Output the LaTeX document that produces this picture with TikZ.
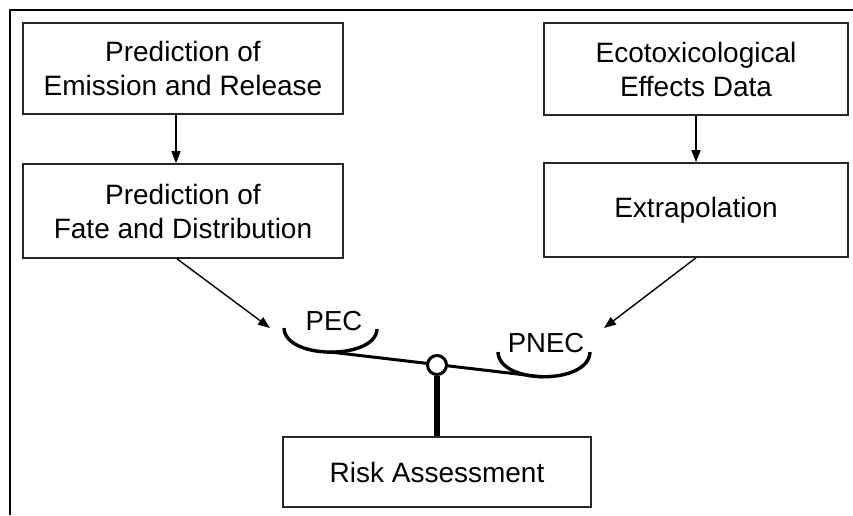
\documentclass[tikz,border=0pt]{standalone}
\usepackage{fontspec}
\setmainfont{Liberation Sans}
\usetikzlibrary{arrows.meta}
\begin{document}
\begin{tikzpicture}[x=1pt,y=-1pt,
  txt/.style={font=\fontsize{28}{34}\selectfont, align=center, inner sep=0pt},
  stepbox/.style={txt, draw=black!85, line width=1.6pt},
  arr/.style={line width=1.4pt, -{Triangle[length=12pt,width=9pt]}},
  pan/.style={line width=3.4pt},
]
\useasboundingbox (0,0) rectangle (853,515);
% outer frame (top and left edges)
\draw[line width=2.4pt] (10,515) -- (10,10) -- (853,10);

% exposure branch
\node[stepbox, minimum width=320pt, minimum height=91pt] (emis) at (183,68.5) {Prediction of\\Emission and Release};
\node[stepbox, minimum width=320pt, minimum height=94pt] (fate) at (183,211) {Prediction of\\Fate and Distribution};
% effects branch
\node[stepbox, minimum width=304pt, minimum height=92pt] (eco) at (696,69) {Ecotoxicological\\Effects Data};
\node[stepbox, minimum width=304pt, minimum height=94pt] (extra) at (696,210) {Extrapolation};
% result
\node[stepbox, minimum width=308pt, minimum height=70pt] (risk) at (437,472) {Risk Assessment};

\draw[arr] ([xshift=-7pt]emis.south) -- ([xshift=-7pt]fate.north);
\draw[arr] (eco.south) -- (extra.north);

% balance
\coordinate (pecin) at (270,328);
\coordinate (pnecin) at (604,328);
\coordinate (lb) at (330,352);
\coordinate (rb) at (543,377);
\draw[arr] ([xshift=-6pt]fate.south) -- (pecin);
\draw[arr] (extra.south) -- (pnecin);

\draw[pan] (284,328) .. controls (285,360) and (376,360) .. (377,329);
\draw[pan] (498,352) .. controls (499,385) and (589,385) .. (590,352);
\draw[line width=3pt] (lb) -- (rb);
\node[circle, draw, fill=white, line width=3pt, minimum size=19pt, inner sep=0pt] (piv) at (437,365) {};
\draw[line width=6pt] (piv.south) -- (risk.north);

\node[txt, font=\fontsize{27.5}{33}\selectfont] (pec) at (334,321) {PEC};
\node[txt, font=\fontsize{27.5}{33}\selectfont] (pnec) at (546,343) {PNEC};
\end{tikzpicture}
\end{document}
